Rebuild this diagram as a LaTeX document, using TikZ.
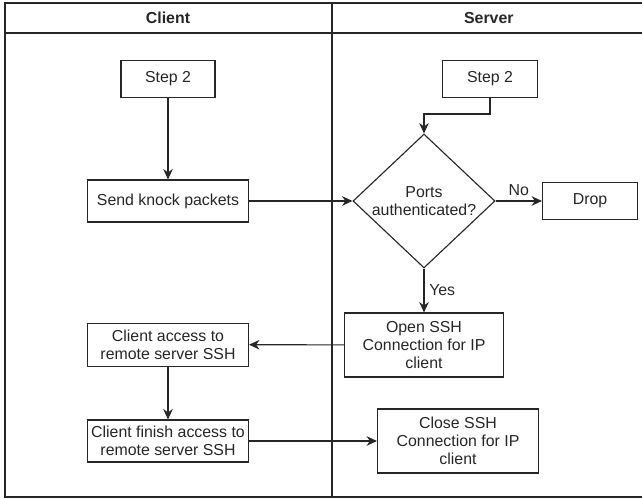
\documentclass[tikz,border=0pt]{standalone}
\usepackage{fontspec}
\setmainfont{Liberation Sans}
\usetikzlibrary{shapes.geometric,arrows.meta}

\begin{document}
\begin{tikzpicture}[
		font=\fontsize{11.3}{12.8}\selectfont,
		stepbox/.style={draw=black!85, line width=0.8pt, align=center, inner sep=0pt, text=black!85},
		decision/.style={draw=black!85, line width=0.8pt, diamond, align=center, inner sep=0pt, text=black!85, minimum width=3.55cm, minimum height=3.35cm},
		flow/.style={draw=black!85, line width=0.8pt, -{Stealth[length=2.6mm,width=2.4mm]}},
		lane/.style={draw=black!85, line width=0.8pt}
	]
	\useasboundingbox (0,0) rectangle (16.05,12.475);

	% swimlanes
	\draw[lane] (16.05,12.4) -- (0.125,12.4) -- (0.125,0.05) -- (16.05,0.05);
	\draw[lane] (0.125,11.65) -- (16.05,11.65);
	\draw[lane] (8.3,12.4) -- (8.3,0.05);
	\node[font=\fontsize{11.3}{12.8}\selectfont\bfseries, text=black!85] (clienthead) at (4.2,12.02) {Client};
	\node[font=\fontsize{11.3}{12.8}\selectfont\bfseries, text=black!85] (serverhead) at (12.22,12.02) {Server};

	% client side
	\node[stepbox, minimum width=2.35cm, minimum height=0.925cm] (stepc) at (4.2,10.5) {Step 2};
	\node[stepbox, minimum width=4.025cm, minimum height=1.05cm] (knock) at (4.2,7.45) {Send knock packets};
	\node[stepbox, minimum width=4.025cm, minimum height=1.075cm] (access) at (4.2,3.86) {Client access to\\remote server SSH};
	\node[stepbox, minimum width=4.025cm, minimum height=1.05cm] (finish) at (4.2,1.45) {Client finish access to\\remote server SSH};

	% server side
	\node[stepbox, minimum width=2.375cm, minimum height=0.925cm] (steps) at (12.25,10.5) {Step 2};
	\node[decision] (auth) at (10.6,7.45) {Ports\\authenticated?};
	\node[stepbox, minimum width=2.375cm, minimum height=0.925cm] (drop) at (14.75,7.45) {Drop};
	\node[stepbox, minimum width=3.975cm, minimum height=1.6cm] (open) at (10.6,3.85) {Open SSH\\Connection for IP\\client};
	\node[stepbox, minimum width=4.025cm, minimum height=1.6cm] (close) at (11.45,1.45) {Close SSH\\Connection for IP\\client};

	\draw[flow] (stepc) -- (knock);
	\draw[flow] (steps.south) -- ++(0,-0.4) -| (auth.north);
	\draw[flow] (knock) -- (auth);
	\draw[flow] (auth) -- node[above, text=black!85]{No} (drop);
	\draw[flow] (auth) -- node[right, text=black!85]{Yes} (open);
	\draw[flow] (open) -- (access);
	\draw[flow] (access) -- (finish);
	\draw[flow] (finish) -- (close);
\end{tikzpicture}
\end{document}
